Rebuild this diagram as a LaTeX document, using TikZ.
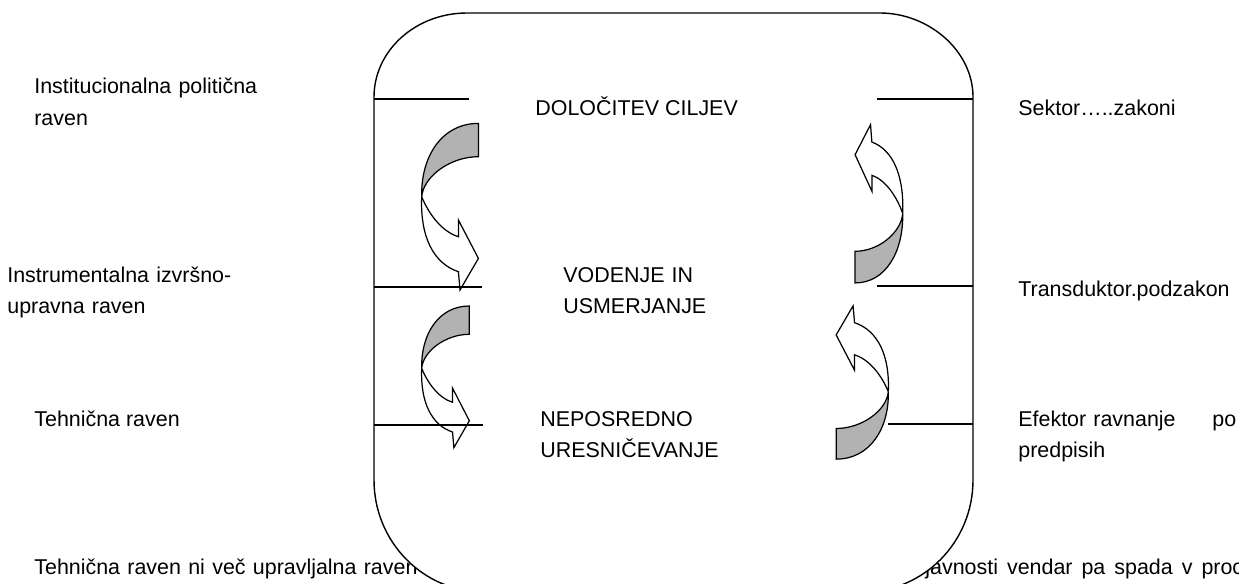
\documentclass[tikz,border=0pt]{standalone}
\usepackage{fontspec}
\setmainfont{Liberation Sans}

\tikzset{
  lbl/.style={anchor=base west,inner sep=0pt,font=\fontsize{12.2}{18.2}\selectfont},
  twoline/.style={lbl,text width=#1,align=left},
  twoline/.default=5cm,
  level/.style={line width=0.6pt},
  band/.style={line width=0.7pt,fill=black!30},
  bendarrow/.pic={
    \draw [band] (56.7,-73.3) .. controls (20,-73.3) and (-1,-40) .. (0,0)
      .. controls (1.7,-20) and (28.3,-40) .. (56.7,-40) -- cycle;
    \draw [line width=0.7pt] (0,0) .. controls (-1.7,40) and (11.7,66.7) .. (36.7,75)
      -- (38.3,93.3) -- (56.7,61.7) -- (36.7,23.3) -- (36.7,40)
      .. controls (20,35) and (6.7,16.7) .. (0,0);
  }
}

\begin{document}
\begin{tikzpicture}[x=0.02cm,y=-0.02cm]
      \useasboundingbox (0,0) rectangle (1239,584);
      \node [lbl] (note) at (34,574) {\spaceskip=0.34em\relax Tehnična raven ni več upravljalna raven};
      \node [lbl] (notecont) at (925,574) {\spaceskip=0.42em\relax javnosti vendar pa spada v proc};
      \draw [line width=0.8pt,fill=white] (374,97) .. controls (374,50.6) and (415.6,13) .. (467,13)
        -- (880,13) .. controls (928.4,13) and (973,50.6) .. (973,97)
        -- (973,480) .. controls (973,541.9) and (923.8,592) .. (863,592)
        -- (484,592) .. controls (423.2,592) and (374,541.9) .. (374,480) -- cycle;
      \draw [level] (374,99) -- (469,99);
      \draw [level] (877,99) -- (973,99);
      \draw [level] (374,287) -- (482,287);
      \draw [level] (877,286) -- (973,286);
      \draw [level] (374,425) -- (483,425);
      \draw [level] (888,424) -- (973,424);
      \pic at (421.7,196.7) {bendarrow};
      \pic [xscale=0.84,yscale=0.85] at (421.7,368.3) {bendarrow};
      \pic [rotate=180,xscale=0.84,yscale=0.95] at (902.7,213.3) {bendarrow};
      \pic [rotate=180,xscale=0.92,yscale=0.92] at (888.3,391.7) {bendarrow};
      \node [twoline] (inst) at (34,94) {Institucionalna politična\\raven};
      \node [twoline] (instr) at (7,282) {Instrumentalna izvršno-\\upravna raven};
      \node [lbl] (tehn) at (34,426) {Tehnična raven};
      \node [lbl] (cilj) at (535,116) {DOLOČITEV CILJEV};
      \node [twoline] (vod) at (563,282) {VODENJE IN\\USMERJANJE};
      \node [twoline] (nep) at (540,426) {NEPOSREDNO\\URESNIČEVANJE};
      \node [lbl] (sek) at (1018,116) {Sektor…..zakoni};
      \node [lbl] (trans) at (1018,296) {Transduktor.podzakon};
      \node [twoline=4.36cm] (efek) at (1018,426) {Efektor ravnanje\hfill po\\predpisih};
\end{tikzpicture}
\end{document}
